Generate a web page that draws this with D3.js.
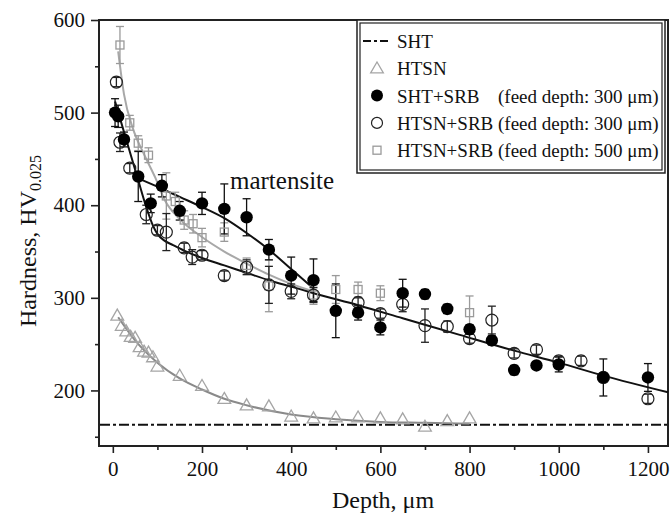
<!DOCTYPE html>
<html>
<head>
<meta charset="utf-8">
<script src="https://cdn.jsdelivr.net/npm/d3@7"></script>
<style>
  body { margin: 0; background: #fff; }
  svg text { font-family: "Liberation Serif", "Times New Roman", serif; fill: #111; }
</style>
</head>
<body>
<svg id="chart" width="670" height="517"></svg>
<script>
// ---- data ----
const shtLevel = 163;

// HTSN (open triangles)
const htsnDepth = [10, 20, 30, 40, 50, 60, 70, 80, 90, 100, 150, 200, 250, 300, 350, 400, 450, 500, 550, 600, 650, 700, 750, 800];
const htsnHv    = [281, 270, 264, 258, 257, 247, 242, 241, 236, 226, 216, 205, 191, 184, 183, 172, 170, 171, 171, 170, 169, 161, 167, 170];

// SHT+SRB 300 um (filled circles)
const shtSrbDepth = [5, 12, 25, 57, 85, 110, 150, 200, 250, 300, 350, 400, 450, 500, 550, 600, 650, 700, 750, 800, 850, 900, 950, 1000, 1100, 1200];
const shtSrbHv    = [500, 496, 471, 431, 402, 421, 394, 402, 396, 387, 352, 324, 319, 286, 284, 268, 305, 304, 288, 266, 254, 222, 227, 228, 214, 214];
const shtSrbErr   = [15, 12, 8, 27, 10, 12, 10, 12, 27, 20, 11, 20, 23, 29, 8, 8, 15, 5, 5, 5, 5, 5, 3, 8, 20, 15];

// HTSN+SRB 300 um (open circles)
const htsnSrb3Depth = [8, 16, 38, 75, 100, 120, 160, 178, 200, 250, 300, 350, 400, 450, 550, 600, 650, 700, 750, 800, 850, 900, 950, 1000, 1050, 1100, 1200];
const htsnSrb3Hv    = [533, 468, 440, 390, 373, 371, 354, 344, 346, 324, 333, 314, 307, 303, 295, 283, 293, 270, 269, 256, 276, 240, 244, 232, 232, 214, 191];
const htsnSrb3Err   = [5, 10, 5, 10, 5, 20, 5, 8, 5, 5, 8, 20, 8, 8, 5, 5, 8, 18, 6, 5, 15, 5, 5, 5, 5, 5, 5];

// HTSN+SRB 500 um (open squares)
const htsnSrb5Depth = [16, 38, 57, 80, 120, 140, 160, 180, 200, 250, 300, 350, 450, 500, 550, 600, 800];
const htsnSrb5Hv    = [573, 489, 467, 454, 410, 404, 384, 380, 365, 371, 335, 313, 303, 309, 309, 305, 284];
const htsnSrb5Err   = [20, 8, 8, 8, 25, 10, 10, 10, 10, 10, 8, 28, 10, 15, 8, 8, 18];

// fitted curves
const fitHtsn   = [[12, 279], [50, 254], [100, 230], [150, 213], [200, 201], [250, 191], [300, 184], [400, 174], [500, 169], [600, 166], [700, 165], [800, 164]];
const fitSrb3   = [[5, 512], [30, 471], [57, 427], [75, 398], [90, 378], [100, 369], [115, 362], [135, 357], [160, 351], [200, 343], [250, 335], [300, 327], [350, 319], [408, 311], [450, 305], [550, 292], [650, 278], [778, 260], [900, 243], [1000, 230], [1100, 216], [1245, 198]];
const fitShtSrb = [[57, 429], [100, 420], [150, 409], [200, 398], [250, 386], [300, 370], [350, 352], [400, 331], [450, 310]];
const fitSrb5   = [[12, 566], [25, 520], [45, 483], [70, 455], [95, 430], [117, 405], [150, 385], [199, 366], [250, 350], [300, 337], [350, 325], [400, 315], [450, 307]];

const xMajor = [0, 200, 400, 600, 800, 1000, 1200];
const xMinor = [100, 300, 500, 700, 900, 1100];
const yMajor = [200, 300, 400, 500, 600];
const yMinor = [150, 250, 350, 450, 550];

const legendRows = [
    { label: "SHT", note: "" },
    { label: "HTSN", note: "" },
    { label: "SHT+SRB", note: "(feed depth: 300 μm)" },
    { label: "HTSN+SRB", note: "(feed depth: 300 μm)" },
    { label: "HTSN+SRB", note: "(feed depth: 500 μm)" }
];

// ---- drawing ----
const svg = d3.select("#chart");
const GRAY = "#9a9a9a";

const x = d3.scaleLinear().domain([-31, 1245]).range([99, 668]);
const y = d3.scaleLinear().domain([140, 600]).range([446, 20]);

function zip(a, b, e) {
    return a.map((d, i) => ({ d: d, v: b[i], e: e ? e[i] : 0 }));
}
const htsn = zip(htsnDepth, htsnHv);
const shtSrb = zip(shtSrbDepth, shtSrbHv, shtSrbErr);
const srb3 = zip(htsnSrb3Depth, htsnSrb3Hv, htsnSrb3Err);
const srb5 = zip(htsnSrb5Depth, htsnSrb5Hv, htsnSrb5Err);

// axes
const gx = svg.append("g").attr("transform", "translate(0,446)");
gx.call(d3.axisBottom(x).tickValues(xMajor).tickSize(7).tickPadding(8).tickFormat(d3.format("d")));
gx.append("g").call(d3.axisBottom(x).tickValues(xMinor).tickSize(4).tickFormat(""));
const gy = svg.append("g").attr("transform", "translate(99,0)");
gy.call(d3.axisLeft(y).tickValues(yMajor).tickSize(8).tickPadding(6));
gy.append("g").call(d3.axisLeft(y).tickValues(yMinor).tickSize(4).tickFormat(""));
svg.selectAll(".domain").remove();
svg.selectAll(".tick line").attr("stroke", "#222").attr("stroke-width", 1.6);
svg.selectAll(".tick text").style("font-size", "21px").attr("fill", "#111");

// frame
svg.append("rect")
    .attr("x", 99).attr("y", 20).attr("width", 569).attr("height", 426)
    .attr("fill", "none").attr("stroke", "#222").attr("stroke-width", 2);

// SHT reference
svg.append("line")
    .attr("x1", 100).attr("x2", 667)
    .attr("y1", y(shtLevel)).attr("y2", y(shtLevel))
    .attr("stroke", "#111").attr("stroke-width", 2)
    .attr("stroke-dasharray", "10,3,3,3");

// fit lines
const line = d3.line().x(p => x(p[0])).y(p => y(p[1])).curve(d3.curveMonotoneX);
[[fitHtsn, "#8a8a8a"], [fitSrb5, "#a8a8a8"], [fitSrb3, "#111"], [fitShtSrb, "#111"]].forEach(([pts, c]) => {
    svg.append("path").datum(pts)
        .attr("d", line).attr("fill", "none")
        .attr("stroke", c).attr("stroke-width", 2);
});

// error bars
function errorBars(data, color) {
    const g = svg.append("g").attr("stroke", color).attr("stroke-width", 1.3);
    data.filter(p => p.e > 0).forEach(p => {
        const cx = x(p.d), y1 = y(p.v + p.e), y2 = y(p.v - p.e);
        g.append("line").attr("x1", cx).attr("x2", cx).attr("y1", y1).attr("y2", y2);
        g.append("line").attr("x1", cx - 4).attr("x2", cx + 4).attr("y1", y1).attr("y2", y1);
        g.append("line").attr("x1", cx - 4).attr("x2", cx + 4).attr("y1", y2).attr("y2", y2);
    });
}
errorBars(srb5, GRAY);
errorBars(srb3, "#222");
errorBars(shtSrb, "#111");

// markers
const tri = d3.symbol().type(d3.symbolTriangle).size(70);
svg.append("g").selectAll("path").data(htsn).join("path")
    .attr("d", tri)
    .attr("transform", p => `translate(${x(p.d)},${y(p.v) + 1})`)
    .attr("fill", "none").attr("stroke", "#a5a5a5").attr("stroke-width", 1.3);

svg.append("g").selectAll("rect").data(srb5).join("rect")
    .attr("x", p => x(p.d) - 4).attr("y", p => y(p.v) - 4)
    .attr("width", 8).attr("height", 8)
    .attr("fill", "none").attr("stroke", GRAY).attr("stroke-width", 1.3);

svg.append("g").selectAll("circle").data(srb3).join("circle")
    .attr("cx", p => x(p.d)).attr("cy", p => y(p.v)).attr("r", 6)
    .attr("fill", "none").attr("stroke", "#222").attr("stroke-width", 1.2);

svg.append("g").selectAll("circle").data(shtSrb).join("circle")
    .attr("cx", p => x(p.d)).attr("cy", p => y(p.v)).attr("r", 6.2)
    .attr("fill", "#000");

// annotation
svg.append("text").attr("x", 230).attr("y", 189)
    .style("font-size", "25px").text("martensite");

// axis titles
svg.append("text").attr("x", 383).attr("y", 508)
    .attr("text-anchor", "middle").style("font-size", "24px")
    .text("Depth, μm");
const yt = svg.append("text")
    .attr("transform", "translate(36,241) rotate(-90)")
    .attr("text-anchor", "middle").style("font-size", "24px");
yt.append("tspan").text("Hardness, HV");
yt.append("tspan").attr("dy", 5).style("font-size", "16px").text("0.025");

// legend
const lg = svg.append("g");
lg.append("rect").attr("x", 357).attr("y", 20).attr("width", 308).attr("height", 153)
    .attr("fill", "#fff").attr("stroke", "#222").attr("stroke-width", 1.5);
lg.append("rect").attr("x", 360).attr("y", 23).attr("width", 302).attr("height", 147)
    .attr("fill", "none").attr("stroke", "#222").attr("stroke-width", 1.2);

legendRows.forEach((r, i) => {
    const cy = 41 + i * 27.3;
    const t = lg.append("text").attr("x", 397).attr("y", cy + 7).style("font-size", "19px");
    t.append("tspan").text(r.label);
    if (r.note) {
        if (i === 2) t.append("tspan").attr("x", 498).text(r.note);
        else t.append("tspan").text(" " + r.note);
    }
});
lg.append("line").attr("x1", 363).attr("x2", 389).attr("y1", 41).attr("y2", 41)
    .attr("stroke", "#111").attr("stroke-width", 2).attr("stroke-dasharray", "8,3,3,3");
lg.append("path").attr("d", tri).attr("transform", `translate(377,${41 + 27.3 + 1})`)
    .attr("fill", "none").attr("stroke", "#a5a5a5").attr("stroke-width", 1.3);
lg.append("circle").attr("cx", 377).attr("cy", 41 + 2 * 27.3).attr("r", 6).attr("fill", "#000");
lg.append("circle").attr("cx", 377).attr("cy", 41 + 3 * 27.3).attr("r", 5.5)
    .attr("fill", "none").attr("stroke", "#222").attr("stroke-width", 1.2);
lg.append("rect").attr("x", 373).attr("y", 41 + 4 * 27.3 - 4).attr("width", 8).attr("height", 8)
    .attr("fill", "none").attr("stroke", GRAY).attr("stroke-width", 1.3);
</script>
</body>
</html>
